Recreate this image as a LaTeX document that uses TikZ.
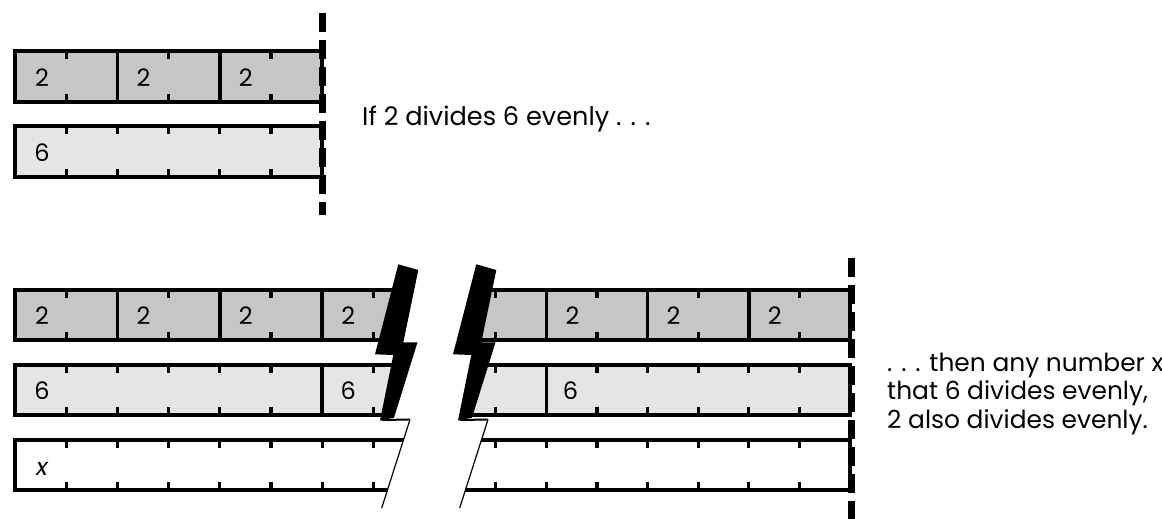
\documentclass[tikz,border=0pt]{standalone}
\usepackage{fontspec}
\setmainfont{Poppins}
\definecolor{darkfill}{RGB}{198,198,198}
\definecolor{lightfill}{RGB}{229,229,229}
\newcommand\mybolt{%
  \fill (398.3,264.3) -- (418.3,270) -- (403.3,342.3) -- (417.5,342.3) -- (394,417.7) -- (380,420.5) -- (393.3,355) -- (375,354.3) -- cycle;
  \draw[line width=2pt] (382,420) -- (410,419.5);
  \draw[line width=1.2pt] (410,419.5) -- (381.7,508);
}
\begin{document}
\begin{tikzpicture}[x=1pt,y=-1pt,
  bar/.style={line width=3.5pt},
  tk/.style={line width=3.3pt},
  lbl/.style={font=\fontsize{24}{24}\selectfont, anchor=base, inner sep=0pt},
  txt/.style={font=\fontsize{25.6}{25.6}\selectfont, anchor=base west, inner sep=0pt},
  rtxt/.style={font=\fontsize{24.9}{24.9}\selectfont, anchor=base west, inner sep=0pt},
  dashv/.style={line width=7pt, dash pattern=on 19pt off 8pt},
]
\useasboundingbox (0,0) rectangle (1162,519);
% ---------- top section ----------
\fill[darkfill] (15,51) rectangle (322,102);
\foreach \k in {1,3,5} {
  \draw[tk] ({15+\k*51.2},51) -- ++(0,8);
  \draw[tk] ({15+\k*51.2},102) -- ++(0,-8);
}
\foreach \k in {2,4} \draw[bar] ({15+\k*51.2},51) -- ({15+\k*51.2},102);
\draw[bar] (15,51) rectangle (322,102);
\fill[lightfill] (15,126) rectangle (322,177);
\foreach \k in {1,...,5} {
  \draw[tk] ({15+\k*51.2},126) -- ++(0,8);
  \draw[tk] ({15+\k*51.2},177) -- ++(0,-8);
}
\draw[bar] (15,126) rectangle (322,177);
\node[lbl] (a1) at (42,86) {2};
\node[lbl] (a2) at (143.4,86) {2};
\node[lbl] (a3) at (245.8,86) {2};
\node[lbl] (b1) at (42,161) {6};
\node[txt] (t1) at (362,125) {If 2 divides 6 evenly . . .};
% ---------- bottom left part ----------
\begin{scope}
\clip (0,250) -- (408,250) -- (408,266) -- (391,346) -- (405,349) -- (387,419) -- (410,419.5) -- (381.7,508) -- (0,508) -- cycle;
\fill[darkfill] (15,290) rectangle (440,340);
\foreach \k in {1,3,5,7} {
  \draw[tk] ({15+\k*51.2},290) -- ++(0,8);
  \draw[tk] ({15+\k*51.2},340) -- ++(0,-8);
}
\foreach \k in {2,4,6} \draw[bar] ({15+\k*51.2},290) -- ({15+\k*51.2},340);
\draw[bar] (440,290) -- (15,290) -- (15,340) -- (440,340);
\fill[lightfill] (15,365) rectangle (440,415);
\foreach \k in {1,2,3,4,5,7} {
  \draw[tk] ({15+\k*51.2},365) -- ++(0,8);
  \draw[tk] ({15+\k*51.2},415) -- ++(0,-8);
}
\draw[bar] ({15+6*51.2},365) -- ({15+6*51.2},415);
\draw[bar] (440,365) -- (15,365) -- (15,415) -- (440,415);
\foreach \k in {1,...,7} {
  \draw[tk] ({15+\k*51.2},440) -- ++(0,8);
  \draw[tk] ({15+\k*51.2},490) -- ++(0,-8);
}
\draw[bar] (440,440) -- (15,440) -- (15,490) -- (440,490);
\end{scope}
% ---------- bottom right part ----------
\begin{scope}
\clip (1162,250) -- (486,250) -- (486,266) -- (469,346) -- (483,349) -- (465,419) -- (488,419.5) -- (459.7,508) -- (1162,508) -- cycle;
\fill[darkfill] (430,290) rectangle (850,340);
\foreach \k in {1,3,5,7} {
  \draw[tk] ({850-\k*50.6},290) -- ++(0,8);
  \draw[tk] ({850-\k*50.6},340) -- ++(0,-8);
}
\foreach \k in {2,4,6} \draw[bar] ({850-\k*50.6},290) -- ({850-\k*50.6},340);
\draw[bar] (430,290) -- (850,290) -- (850,340) -- (430,340);
\fill[lightfill] (430,365) rectangle (850,415);
\foreach \k in {1,2,3,4,5,7} {
  \draw[tk] ({850-\k*50.6},365) -- ++(0,8);
  \draw[tk] ({850-\k*50.6},415) -- ++(0,-8);
}
\draw[bar] ({850-6*50.6},365) -- ({850-6*50.6},415);
\draw[bar] (430,365) -- (850,365) -- (850,415) -- (430,415);
\foreach \k in {1,...,7} {
  \draw[tk] ({850-\k*50.6},440) -- ++(0,8);
  \draw[tk] ({850-\k*50.6},490) -- ++(0,-8);
}
\draw[bar] (430,440) -- (850,440) -- (850,490) -- (430,490);
\end{scope}
% ---------- bolts ----------
\mybolt
\begin{scope}[xshift=78pt]
\mybolt
\end{scope}
% ---------- labels bottom ----------
\node[lbl] (c1) at (42,324) {2};
\node[lbl] (c2) at (143.4,324) {2};
\node[lbl] (c3) at (245.8,324) {2};
\node[lbl] (c4) at (348.2,324) {2};
\node[lbl] (c5) at (572.4,324) {2};
\node[lbl] (c6) at (673.6,324) {2};
\node[lbl] (c7) at (774.8,324) {2};
\node[lbl] (d1) at (42,399) {6};
\node[lbl] (d2) at (348.2,399) {6};
\node[lbl] (d3) at (570.4,399) {6};
\node[lbl] (e1) at (42,475) {\itshape x};
% ---------- dashed lines ----------
\draw[dashv] (322,13) -- (322,215);
\draw[dashv] (851.5,258) -- (851.5,519);
% ---------- right text ----------
\node[rtxt] (t2) at (887,371) {. . . then any number x};
\node[rtxt] (t3) at (887,399.5) {that 6 divides evenly,};
\node[rtxt] (t4) at (887,428) {2 also divides evenly.};
\end{tikzpicture}
\end{document}
